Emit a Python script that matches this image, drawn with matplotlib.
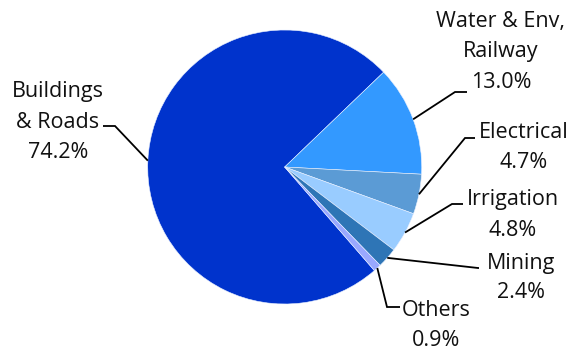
import numpy as np
import matplotlib
matplotlib.use("Agg")
import matplotlib.pyplot as plt

# Share of project value by sector (%)
categories = ["Buildings\n& Roads", "Water & Env,\nRailway", "Electrical",
              "Irrigation", "Mining", "Others"]
values = [74.2, 13.0, 4.7, 4.8, 2.4, 0.9]
colors = ["#0033CC", "#3399FF", "#5B9BD5", "#99CCFF", "#2E75B6", "#99A8FF"]

W, H = 575, 351
fig = plt.figure(figsize=(W / 100, H / 100), dpi=100)
ax = fig.add_axes([0, 0, 1, 1])
ax.set_aspect("equal")

cx, cy, r = 284.7, H - 167.0, 137.0
start = -49.1
wedges, _ = ax.pie(values, colors=colors, startangle=start, counterclock=False,
                   center=(cx, cy), radius=r,
                   wedgeprops=dict(linewidth=0.4, edgecolor="#E8F0FF"))
ax.set_xlim(0, W)
ax.set_ylim(0, H)
ax.axis("off")

# label layout in pixel coords (top-left origin): elbow, line end, text centre x, first line y
layout = [
    dict(elbow=(115, 126), end=(103, 126), tx=58, ty=92),
    dict(elbow=(455, 92), end=(467, 92), tx=501, ty=22),
    dict(elbow=(465, 138), end=(475, 138), tx=524, ty=133),
    dict(elbow=(452, 204), end=(463, 204), tx=513, ty=200),
    dict(elbow=(478, 268), end=(479, 268), tx=521, ty=263),
    dict(elbow=(387, 307), end=(400, 307), tx=436, ty=310),
]

font = dict(family=["Open Sans", "DejaVu Sans"], size=15.5, color="#111111")
for w, val, name, lay in zip(wedges, values, categories, layout):
    mid = np.deg2rad((w.theta1 + w.theta2) / 2)
    x0 = cx + r * np.cos(mid)
    y0 = cy + r * np.sin(mid)
    ex, ey = lay["elbow"]
    fx, fy = lay["end"]
    ax.plot([x0, ex, fx], [y0, H - ey, H - fy], color="black", lw=1.3,
            solid_capstyle="butt", solid_joinstyle="miter")
    lines = name.split("\n") + [f"{val:.1f}%"]
    for i, line in enumerate(lines):
        ax.text(lay["tx"], H - (lay["ty"] + 30 * i), line, ha="center",
                va="center", **font)

fig.savefig("out.png", dpi=100)
